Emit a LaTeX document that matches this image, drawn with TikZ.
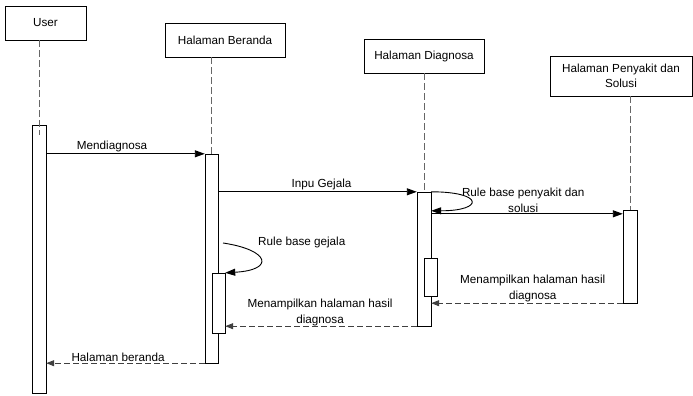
\documentclass[tikz,border=0pt]{standalone}
\usepackage{fontspec}
\setmainfont{Liberation Sans}
\usetikzlibrary{arrows.meta}
\newcommand{\seqfont}{\fontsize{11.7}{15.5}\selectfont}

\begin{document}
\begin{tikzpicture}[x=1pt, y=-1pt,
  head/.style={draw, minimum height=34pt, align=center, inner sep=2pt, font=\seqfont},
  act/.style={draw, fill=white, minimum width=14pt, inner sep=0pt},
  life/.style={draw=black!60, dash pattern=on 7pt off 3pt},
  msg/.style={-{Triangle[length=10pt,width=7pt]}, line width=0.9pt},
  ret/.style={-{Triangle[length=8pt,width=6pt]}, dash pattern=on 6pt off 3pt, draw=black!75, line width=0.9pt},
  lbl/.style={font=\seqfont, align=center, inner sep=1pt}
]
\useasboundingbox (0,0) rectangle (693,396);

% objects
\node[head, minimum width=81pt] (user) at (45.5,23) {User};
\node[head, minimum width=120pt] (beranda) at (225,40) {Halaman Beranda};
\node[head, minimum width=120pt] (diagnosa) at (424,56) {Halaman Diagnosa};
\node[head, minimum width=142pt, minimum height=40pt] (penyakit) at (621,76) {Halaman Penyakit dan\\Solusi};

% activations
\node[act, minimum height=268pt] (uact) at (39,259) {};
\node[act, minimum width=13pt, minimum height=209pt] (bact) at (211.5,258.5) {};
\node[act, minimum width=13pt, minimum height=60pt] (binner) at (218.5,303) {};
\node[act, minimum height=134pt] (dact) at (424,259) {};
\node[act, minimum width=13pt, minimum height=38pt] (dinner) at (430.5,277) {};
\node[act, minimum height=93pt] (pact) at (630,256.5) {};

% lifelines
\draw[life] (uact.north |- user.south) -- ([yshift=-10pt]uact.north);
\draw[life] (bact.north |- beranda.south) -- (bact.north);
\draw[life] (dact.north |- diagnosa.south) -- (dact.north);
\draw[life] (pact.north |- penyakit.south) -- (pact.north);

% messages
\draw[msg] (uact.east |- bact.north) -- node[lbl, above, pos=0.415] {Mendiagnosa} (bact.north west);
\draw[msg] (bact.east |- dact.north) -- node[lbl, above, pos=0.52] {Inpu Gejala} (dact.north west);
\draw[msg] (dact.north east) .. controls +(53,0) and +(53,0) .. ([yshift=-19pt]dact.north east);
\coordinate (pmsg) at ([yshift=-4pt]pact.north west);
\draw[msg] (dact.east |- pmsg) -- node[lbl, above, pos=0.48] {Rule base penyakit dan\\solusi} (pmsg);
\coordinate (gstart) at (223,243);
\draw[msg] (gstart) .. controls (270,250) and (275,270) .. (binner.north east);
\node[lbl, anchor=west] (lgejala) at (257,242) {Rule base gejala};

% replies
\draw[ret] (pact.south west) -- node[lbl, above, pos=0.47] {Menampilkan halaman hasil\\diagnosa} (dact.east |- pact.south);
\draw[ret] (dact.south west) -- node[lbl, above, pos=0.505, inner sep=0pt] {Menampilkan halaman hasil\\diagnosa} (binner.east |- dact.south);
\draw[ret] (bact.south west) -- node[lbl, above, pos=0.547] {Halaman beranda} (uact.east |- bact.south);
\end{tikzpicture}
\end{document}
